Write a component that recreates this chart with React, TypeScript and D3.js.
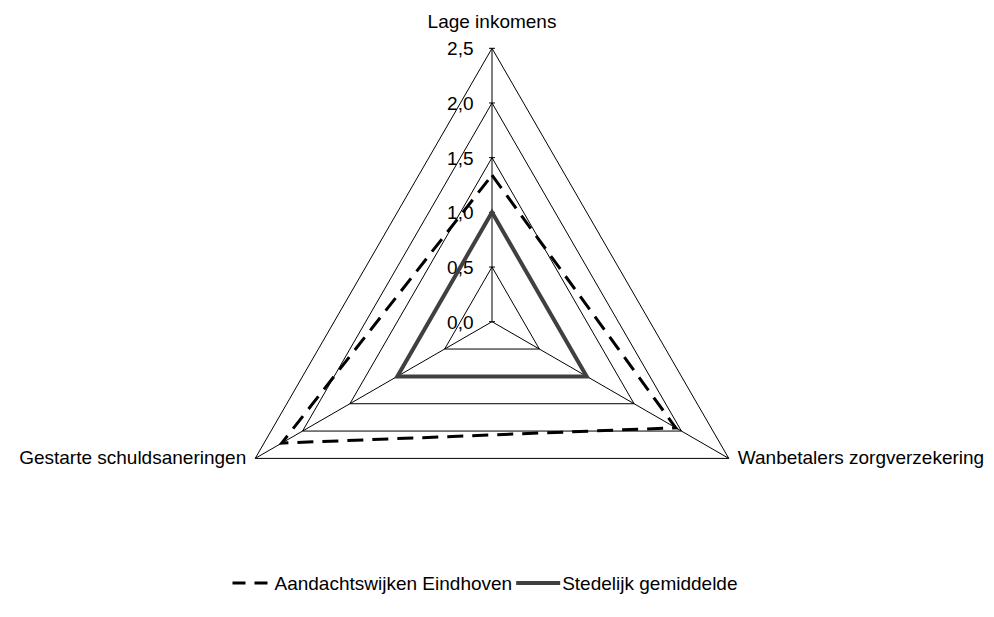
import React, { useRef, useEffect } from "react";
import * as d3 from "d3";

// assen van het radardiagram
const axes = ["Lage inkomens", "Wanbetalers zorgverzekering", "Gestarte schuldsaneringen"];
const ticks = [0, 0.5, 1.0, 1.5, 2.0, 2.5];
const tickLabels = ["0,0", "0,5", "1,0", "1,5", "2,0", "2,5"];

// reeksen
const seriesNames = ["Aandachtswijken Eindhoven", "Stedelijk gemiddelde"];
const aandachtswijken = [1.34, 1.94, 2.22];
const stedelijk = [1.0, 1.0, 1.0];

const W = 994;
const H = 617;
const FONT = "'Liberation Sans', Arial, sans-serif";

const App = () => {
    const svgRef = useRef<SVGSVGElement | null>(null);

    useEffect(() => {
        const svg = d3.select(svgRef.current);
        svg.selectAll("*").remove();

        const cx = 492;
        const cy = 321.7;
        const r = d3.scaleLinear().domain([0, 2.5]).range([0, 273.4]);
        const angle = (i: number) => (i * 2 * Math.PI) / axes.length; // 0 = naar boven, met de klok mee

        const pt = (i: number, v: number): [number, number] => [
            cx + r(v) * Math.sin(angle(i)),
            cy - r(v) * Math.cos(angle(i)),
        ];

        const g = svg.append("g");

        // rasterdriehoeken
        ticks.slice(1).forEach(t => {
            g.append("path")
                .attr("d", d3.line()(axes.map((_, i) => pt(i, t))) + "Z")
                .attr("fill", "none")
                .attr("stroke", "#000")
                .attr("stroke-width", 1);
        });

        // spaken
        axes.forEach((_, i) => {
            const [x, y] = pt(i, 2.5);
            g.append("line")
                .attr("x1", cx).attr("y1", cy)
                .attr("x2", x).attr("y2", y)
                .attr("stroke", "#000")
                .attr("stroke-width", 1);
        });

        // kleine streepjes op de verticale as
        ticks.forEach(t => {
            g.append("line")
                .attr("x1", cx - 3).attr("x2", cx + 3)
                .attr("y1", cy - r(t)).attr("y2", cy - r(t))
                .attr("stroke", "#000")
                .attr("stroke-width", 1);
        });

        // aslabels (waarden)
        ticks.forEach((t, i) => {
            g.append("text")
                .attr("x", 473.5)
                .attr("y", cy - r(t) + 7)
                .attr("text-anchor", "end")
                .style("font-family", FONT)
                .style("font-size", "19px")
                .attr("fill", "#000")
                .text(tickLabels[i]);
        });

        // categorielabels
        axes.forEach((name, i) => {
            const [x, y] = pt(i, 2.5);
            const t = g.append("text")
                .style("font-family", FONT)
                .style("font-size", "19px")
                .attr("fill", "#000")
                .text(name);
            if (i === 0) {
                t.attr("x", x).attr("y", y - 20).attr("text-anchor", "middle");
            } else if (i === 1) {
                t.attr("x", x + 9).attr("y", y + 6).attr("text-anchor", "start");
            } else {
                t.attr("x", x - 9).attr("y", y + 6).attr("text-anchor", "end");
            }
        });

        const lineGen = d3.line();

        // stedelijk gemiddelde
        g.append("path")
            .attr("d", lineGen(stedelijk.map((v, i) => pt(i, v))) + "Z")
            .attr("fill", "none")
            .attr("stroke", "#404040")
            .attr("stroke-width", 4)
            .attr("stroke-linejoin", "miter");

        // aandachtswijken
        g.append("path")
            .attr("d", lineGen(aandachtswijken.map((v, i) => pt(i, v))) + "Z")
            .attr("fill", "none")
            .attr("stroke", "#000")
            .attr("stroke-width", 3)
            .attr("stroke-dasharray", "16,9")
            .attr("stroke-linejoin", "miter");

        // legenda
        const legend = svg.append("g");
        const ly = 583;
        const lb = 590;
        let x = 0;

        legend.append("line")
            .attr("x1", x).attr("x2", x + 38)
            .attr("y1", ly).attr("y2", ly)
            .attr("stroke", "#000")
            .attr("stroke-width", 3)
            .attr("stroke-dasharray", "13,9");
        x += 42;
        const t1 = legend.append("text")
            .attr("x", x).attr("y", lb)
            .style("font-family", FONT)
            .style("font-size", "19px")
            .text(seriesNames[0]);
        const w1 = (t1.node() as SVGTextElement).getComputedTextLength();
        x += w1 + 4;

        legend.append("line")
            .attr("x1", x).attr("x2", x + 44)
            .attr("y1", ly).attr("y2", ly)
            .attr("stroke", "#404040")
            .attr("stroke-width", 4);
        x += 46;
        const t2 = legend.append("text")
            .attr("x", x).attr("y", lb)
            .style("font-family", FONT)
            .style("font-size", "19px")
            .text(seriesNames[1]);
        const w2 = (t2.node() as SVGTextElement).getComputedTextLength();
        const total = x + w2;
        legend.attr("transform", `translate(${485 - total / 2},0)`);
    }, []);

    return (
        <svg
            ref={svgRef}
            width={W}
            height={H}
            style={{ position: "absolute", left: 0, top: 0, background: "#fff" }}
        />
    );
};

export default App;
